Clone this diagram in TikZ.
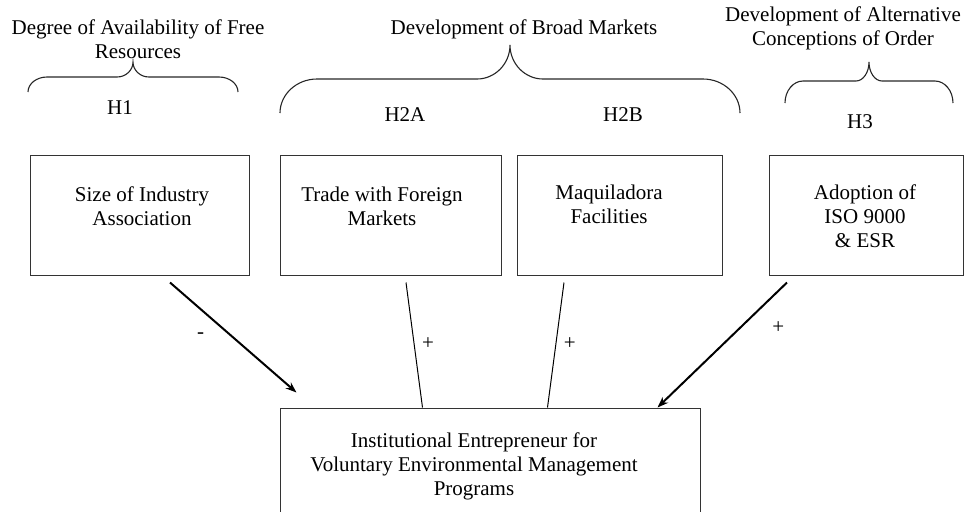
\documentclass[tikz,border=0pt]{standalone}
\usepackage{fontspec}
\setmainfont{Liberation Serif}
\usetikzlibrary{positioning,fit,calc,arrows.meta}

\begin{document}
\begin{tikzpicture}[x=0.5pt,y=-0.5pt,
  font=\fontsize{10.5}{12}\selectfont,
  box/.style={draw=black!80,line width=0.5pt,inner sep=0pt},
  boxtext/.style={align=center,inner sep=0pt,anchor=north},
  hyp/.style={inner sep=0pt,anchor=base},
  sign/.style={inner sep=0pt},
  curly/.style={draw=black!85,line width=0.55pt},
  effect/.style={line width=1pt,-{Stealth[length=5.5pt,width=4pt]}},
  link/.style={line width=0.5pt}]

\newcommand\HBrace[7]{%
  \pgfmathsetmacro\XM{(#1+#2)/2}
  \draw[curly] (#1,#3+#4) .. controls (#1,#3+0.45*#4) and (#1+0.45*#6,#3) .. (#1+#6,#3)
    -- (\XM-#7,#3) .. controls (\XM-0.45*#7,#3) and (\XM,#3-0.45*#5) .. (\XM,#3-#5)
    .. controls (\XM,#3-0.45*#5) and (\XM+0.45*#7,#3) .. (\XM+#7,#3)
    -- (#2-#6,#3) .. controls (#2-0.45*#6,#3) and (#2,#3+0.45*#4) .. (#2,#3+#4);
}

\useasboundingbox (0,0) rectangle (976,511);
\clip (0,0) rectangle (976,511);

%% headings and braces
\node[boxtext] (free) at (138,19.5) {Degree of Availability of Free\\Resources};
\node[boxtext] (broad) at (524,19.5) {Development of Broad Markets};
\node[boxtext] (order) at (843,6.5) {Development of Alternative\\Conceptions of Order};

\HBrace{28}{238}{77}{15}{15}{19}{16}
\HBrace{280}{740}{79}{34}{34}{37}{33}
\HBrace{785}{953}{81}{22}{19}{18}{13}

\node[hyp] (h1) at (120,114) {H1};
\node[hyp] (h2a) at (405,121) {H2A};
\node[hyp] (h2b) at (623,121) {H2B};
\node[hyp] (h3) at (860,128) {H3};

%% boxes
\node[box,fit={(30,155) (249,275)}] (size) {};
\node[box,fit={(280,155) (501,275)}] (trade) {};
\node[box,fit={(517,155) (722,275)}] (maqui) {};
\node[box,fit={(769,155) (963,275)}] (iso) {};
\node[box,fit={(280,408) (700,560)}] (inst) {};

\node[boxtext] (sizet) at (142,186.7) {Size of Industry\\Association};
\node[boxtext] (tradet) at (382,186.7) {Trade with Foreign\\Markets};
\node[boxtext] (maquit) at (609,184.5) {Maquiladora\\Facilities};
\node[boxtext] (isot) at (865,184.5) {Adoption of\\ISO 9000\\\& ESR};
\node[boxtext] (instt) at (474,432.5) {Institutional Entrepreneur for\\Voluntary Environmental Management\\Programs};

%% connectors
\coordinate (s1) at ($(size.south)+(30.5,7)$);
\coordinate (e1) at ($(inst.north west)+(17,-15)$);
\coordinate (s2) at ($(trade.south)+(15.5,7)$);
\coordinate (e2) at ($(inst.north west)+(143,0)$);
\coordinate (s3) at ($(maqui.south)+(-55.5,7)$);
\coordinate (e3) at ($(inst.north west)+(268,0)$);
\coordinate (s4) at ($(iso.south)+(-79,7)$);
\coordinate (e4) at ($(inst.north west)+(378,0)$);

\draw[effect] (s1) -- node[sign,pos=0.48,left=12.75pt] (m1) {-} (e1);
\draw[link] (s2) -- node[sign,pos=0.49,right=3.75pt] (p2) {+} (e2);
\draw[link] (s3) -- node[sign,pos=0.49,right=3.75pt] (p3) {+} (e3);
\draw[effect] (s4) -- node[sign,pos=0.36,right=15.5pt] (p4) {+} (e4);

\end{tikzpicture}
\end{document}
